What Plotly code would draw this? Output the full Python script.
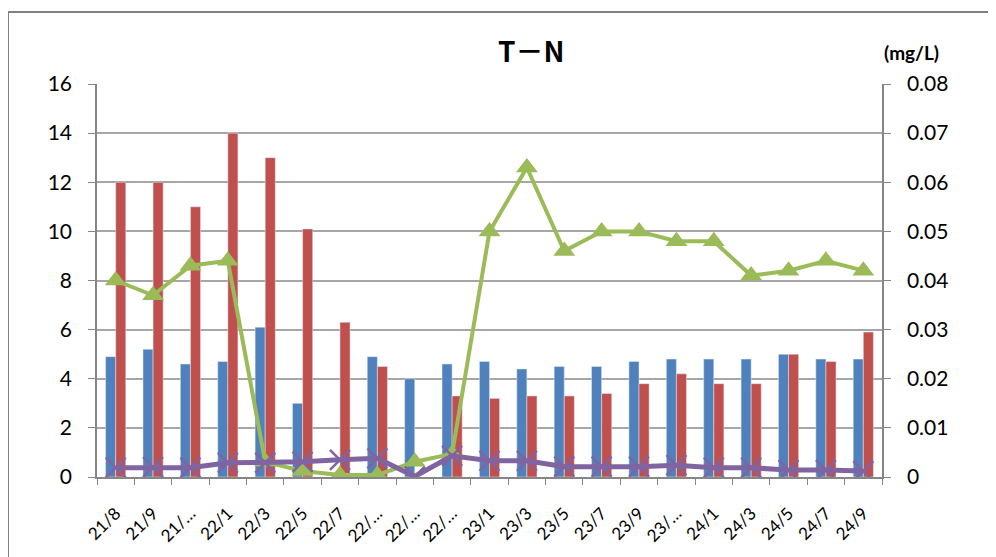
import plotly.graph_objects as go

categories = ["21/8", "21/9", "21/11", "22/1", "22/3", "22/5", "22/7", "22/9", "22/10", "22/11",
              "23/1", "23/3", "23/5", "23/7", "23/9", "23/11", "24/1", "24/3", "24/5", "24/7", "24/9"]
tick_labels = ["21/8", "21/9", "21/…", "22/1", "22/3", "22/5", "22/7", "22/…", "22/…", "22/…",
               "23/1", "23/3", "23/5", "23/7", "23/9", "23/…", "24/1", "24/3", "24/5", "24/7", "24/9"]

blue_vals = [4.9, 5.2, 4.6, 4.7, 6.1, 3.0, None, 4.9, 4.0, 4.6,
             4.7, 4.4, 4.5, 4.5, 4.7, 4.8, 4.8, 4.8, 5.0, 4.8, 4.8]
red_vals = [12.0, 12.0, 11.0, 14.0, 13.0, 10.1, 6.3, 4.5, None, 3.3,
            3.2, 3.3, 3.3, 3.4, 3.8, 4.2, 3.8, 3.8, 5.0, 4.7, 5.9]
green_vals = [0.040, 0.037, 0.043, 0.044, 0.0031, 0.0012, 0.0004, 0.0004, 0.0031, 0.0047,
              0.050, 0.063, 0.046, 0.050, 0.050, 0.048, 0.048, 0.041, 0.042, 0.044, 0.042]
purple_vals = [0.0019, 0.0020, 0.0019, 0.0029, 0.0029, 0.0031, 0.0035, 0.0038, 0.0001, 0.0043,
               0.0033, 0.0033, 0.0021, 0.0021, 0.0021, 0.0024, 0.0019, 0.0019, 0.0014, 0.0014, 0.0012]

left_ticks = [0, 2, 4, 6, 8, 10, 12, 14, 16]
right_ticks = [0, 0.01, 0.02, 0.03, 0.04, 0.05, 0.06, 0.07, 0.08]
right_labels = ["0", "0.01", "0.02", "0.03", "0.04", "0.05", "0.06", "0.07", "0.08"]

FONT = "Lato"
GRID = "#A6A6A6"
AXIS = "#868686"

fig = go.Figure()
fig.add_trace(go.Bar(x=categories, y=blue_vals, marker_color="#4F81BD", name="s1"))
fig.add_trace(go.Bar(x=categories, y=red_vals, marker_color="#C0504D", name="s2"))
fig.add_trace(go.Scatter(x=categories, y=green_vals, yaxis="y2", mode="lines+markers",
                         line=dict(color="#9BBB59", width=4),
                         marker=dict(symbol="triangle-up", size=19, color="#9BBB59"), name="s3"))
fig.add_trace(go.Scatter(x=categories, y=purple_vals, yaxis="y2", mode="lines+markers",
                         line=dict(color="#8064A2", width=5),
                         marker=dict(symbol="x-thin", size=20, color="#8064A2",
                                     line=dict(color="#8064A2", width=2.5)), name="s4"))

fig.update_layout(
    width=988, height=549,
    margin=dict(l=89, r=114, t=76, b=80),
    paper_bgcolor="white", plot_bgcolor="white",
    showlegend=False,
    barmode="group", bargap=0.46, bargroupgap=0,
    font=dict(family=FONT, color="black"),
    xaxis=dict(
        type="category", tickmode="array", tickvals=categories, ticktext=tick_labels,
        tickangle=-45, tickfont=dict(size=17), showline=True, linecolor=AXIS, linewidth=1.5,
        ticks="outside", tickson="boundaries", ticklen=6, tickcolor=AXIS, showgrid=False,
        range=[-0.5, len(categories) - 0.5], ticklabelstandoff=18,
    ),
    yaxis=dict(
        range=[0, 16], tickvals=left_ticks, tickfont=dict(size=21), showline=True,
        linecolor=AXIS, linewidth=1.5, ticks="outside", ticklen=7, tickcolor=AXIS,
        showgrid=True, gridcolor=GRID, gridwidth=1.5, zeroline=False, ticklabelstandoff=12,
    ),
    yaxis2=dict(
        range=[0, 0.08], tickvals=right_ticks, ticktext=right_labels,
        tickfont=dict(size=21), overlaying="y", side="right", showline=True,
        linecolor=AXIS, linewidth=1.5, ticks="outside", ticklen=7, tickcolor=AXIS,
        showgrid=False, zeroline=False, ticklabelstandoff=12,
    ),
    annotations=[
        dict(text="<b>T－N</b>", x=0.553, y=1.03, xref="paper", yref="paper",
             showarrow=False, font=dict(size=28, family="Noto Sans CJK JP"),
             xanchor="center", yanchor="bottom"),
        dict(text="<b>(mg/L)</b>", x=1.0, y=1.045, xref="paper", yref="paper",
             showarrow=False, font=dict(size=19, family="Lato"),
             xanchor="left", yanchor="bottom"),
    ],
    shapes=[
        dict(type="rect", xref="paper", yref="paper", x0=-0.1134, y0=-0.25, x1=1.16, y1=1.183,
             line=dict(color="#7F7F7F", width=2), fillcolor="rgba(0,0,0,0)", layer="below"),
    ],
)

fig.write_html("out.html")
